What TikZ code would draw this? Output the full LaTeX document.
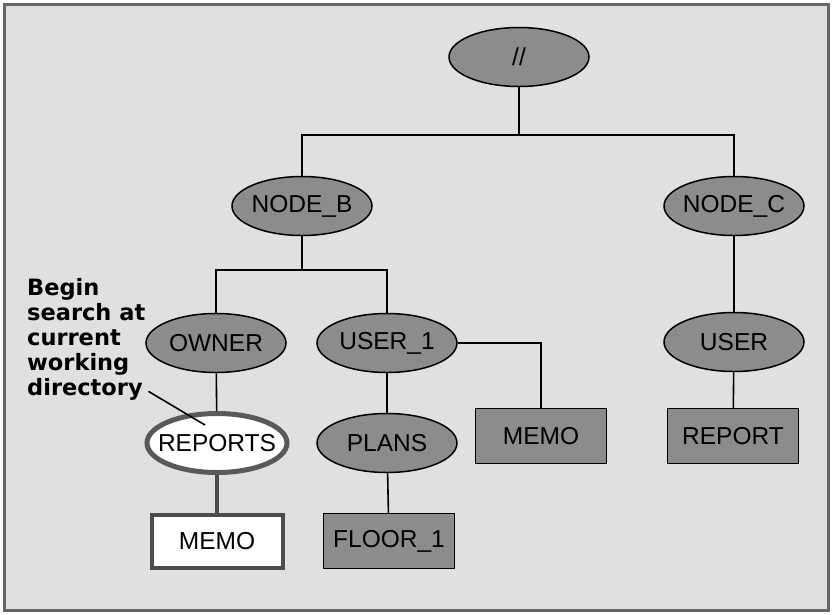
\documentclass[tikz,border=0pt]{standalone}
\usepackage{xcolor}
\usepackage{fontspec}
\setmainfont{Liberation Sans}
\newfontfamily\notefont{DejaVu Sans}
\usetikzlibrary{shapes.geometric,positioning}

\tikzset{
  dir/.style={ellipse, draw, line width=1.5pt, fill=black!45, minimum width=140pt,
    minimum height=59pt, inner xsep=-12pt, inner ysep=0pt, font=\fontsize{24.5}{28}\selectfont},
  file/.style={rectangle, draw, line width=1.5pt, fill=black!45, minimum width=131pt,
    minimum height=55pt, inner sep=0pt, font=\fontsize{24.5}{28}\selectfont},
  cwd/.style={dir, fill=white, draw=black!65, line width=5pt},
  cwdfile/.style={file, fill=white, draw=black!70, line width=4pt, minimum width=131pt, minimum height=53pt},
  conn/.style={line width=1.6pt},
  thickconn/.style={line width=4pt, draw=black!70},
  note/.style={align=left, inner sep=0pt, font=\notefont\bfseries\fontsize{22.5}{25}\selectfont},
}

\begin{document}
\begin{tikzpicture}[x=1pt, y=-1pt]
      % \draw[help lines, gray!50, very thin] (0,0) grid (832,614);
      \useasboundingbox (0,0) rectangle (832,614);
      \draw[line width=3pt, draw=black!60, fill=black!12] (4,4) rectangle (828,610);

      \node[dir] (root) at (519,57) {//};
      \node[dir] (nodeb) at (302,206) {NODE\_B};
      \node[dir] (nodec) at (734,206) {NODE\_C};
      \node[dir] (owner) at (216,343) {OWNER};
      \node[dir] (user1) at (387,343) {USER\_1};
      \node[dir] (userc) at (734,342) {USER};
      \node[cwd] (reports) at (217,443) {REPORTS};
      \node[dir] (plans) at (387,443) {PLANS};
      \node[cwdfile] (memoa) at (217,541) {MEMO};
      \node[file] (floor) at (389,541) {FLOOR\_1};
      \node[file] (memob) at (541,436) {MEMO};
      \node[file] (reportc) at (733,436) {REPORT};

      \coordinate (j1) at (519,135);
      \coordinate (j2) at (302,270);

      \draw[conn] (root) -- (j1);
      \draw[conn] (nodeb.north) |- (j1) -| (nodec.north);
      \draw[conn] (nodeb) -- (j2);
      \draw[conn] (owner.north) |- (j2) -| (user1.north);
      \draw[conn] (owner) -- (reports);
      \draw[thickconn] (reports) -- (memoa);
      \draw[conn] (user1) -- (plans);
      \draw[conn] (plans) -- (floor);
      \draw[conn] (user1.east) -| (memob.north);
      \draw[conn] (nodec) -- (userc);
      \draw[conn] (userc) -- (reportc);

      \node[note, anchor=north west] (note) at (27,278) {Begin\\search at\\current\\working\\directory};
      \coordinate (ptr) at ([xshift=3pt,yshift=9pt]note.south east);
      \coordinate (tip) at (205,425);
      \draw[conn] (ptr) -- (tip);
    \end{tikzpicture}
\end{document}
